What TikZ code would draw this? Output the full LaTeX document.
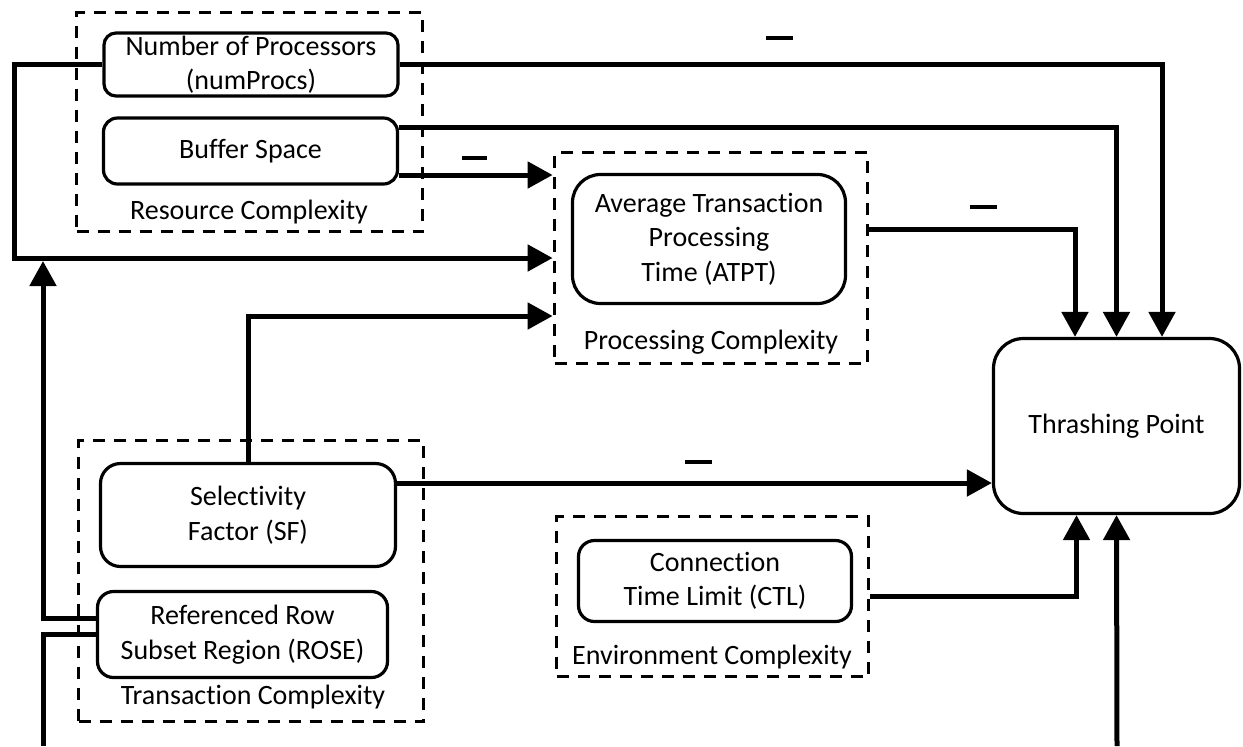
\documentclass[tikz,border=0pt]{standalone}
\usepackage{fontspec}
\setmainfont{Carlito}[Ligatures={NoCommon,NoRequired,NoContextual},Contextuals=NoAlternate]
\usetikzlibrary{arrows.meta,calc}
\tikzset{
  txt/.style={font=\fontsize{14}{17.25}\selectfont, align=center},
  box/.style={txt, draw, line width=1.6pt, inner sep=0pt},
  grp/.style={draw, dash pattern=on 6pt off 4.5pt, line width=1.9pt, inner sep=0pt},
  conn/.style={line width=2.5pt, line join=miter},
  arr/.style={conn, -{Triangle[length=12.5pt,width=13pt]}},
  minusbar/.style={line width=2pt},
}
\begin{document}
\begin{tikzpicture}[x=0.5pt,y=-0.5pt]
\useasboundingbox (0,0) rectangle (1243,746);
% groups
\node[grp, minimum width=173pt, minimum height=109.5pt] (rc) at (249.5,122) {};
\node[grp, minimum width=156.5pt, minimum height=105.5pt] (pc) at (711,258) {};
\node[grp, minimum width=172.5pt, minimum height=140.5pt] (tc) at (251,581) {};
\node[grp, minimum width=156pt, minimum height=80pt] (ec) at (712.5,596.5) {};
% group labels
\node[txt] (rcl) at (249,212) {Resource Complexity};
\node[txt] (pcl) at (711,342) {Processing Complexity};
\node[txt] (tcl) at (253,697) {Transaction Complexity};
\node[txt] (ecl) at (712,657) {Environment Complexity};
% boxes
\node[box, rounded corners=6pt, minimum width=147pt, minimum height=31.5pt] (np) at (251,64.5) {Number of Processors\\(numProcs)};
\node[box, rounded corners=7pt, minimum width=147pt, minimum height=33pt] (bs) at (250.5,151) {Buffer Space};
\node[box, rounded corners=14pt, minimum width=136.5pt, minimum height=64.5pt] (atpt) at (709,239) {Average Transaction\\Processing\\Time (ATPT)};
\node[box, rounded corners=15pt, minimum width=123pt, minimum height=87.5pt] (tp) at (1116.5,426) {Thrashing Point};
\node[box, rounded corners=10pt, minimum width=147.5pt, minimum height=51.5pt] (sf) at (248,515) {Selectivity\\Factor (SF)};
\node[box, rounded corners=8pt, minimum width=145pt, minimum height=43pt] (rose) at (242.5,634.5) {Referenced Row\\Subset Region (ROSE)};
\node[box, rounded corners=8pt, minimum width=136.5pt, minimum height=40.5pt] (ctl) at (715,581) {Connection\\Time Limit (CTL)};
% helper coordinates
\coordinate (L1) at (14,258);
\coordinate (L2) at (43,261);
\coordinate (bot1) at (43,746);
\coordinate (bot2) at (1117,746);
\coordinate (bsA) at ($(bs.east)+(0,-24)$);
\coordinate (bsB) at ($(bs.east)+(0,24)$);
\coordinate (pcO) at ($(pc.east)+(0,-29)$);
\coordinate (pcC) at ($(pc.west)+(0,58)$);
\coordinate (sfO) at ($(sf.east)+(0,-32)$);
\coordinate (roA) at ($(rose.west)+(0,-16.5)$);
\coordinate (tpN1) at ($(tp.north)+(-41.5,0)$);
\coordinate (tpN3) at ($(tp.north)+(45.5,0)$);
\coordinate (tpS1) at ($(tp.south)+(-40,0)$);
% connectors
\draw[arr] (np.west) -| (L1) -- (pc.west);
\draw[arr] (np.east) -| (tpN3);
\draw[arr] (bsA) -| (tp.north);
\draw[arr] (bsB) -- (bsB -| pc.west);
\draw[arr] (pcO) -| (tpN1);
\draw[arr] (sf.north) |- (pcC);
\draw[arr] (sfO) -- (sfO -| tp.west);
\draw[arr] (roA) -| (L2);
\draw[conn] (rose.west) -| (bot1);
\draw[arr] (ec.east) -| (tpS1);
\draw[arr] (bot2) -- (tp.south);
% minus signs
\draw[minusbar] (766,38) -- (793,38);
\draw[minusbar] (462,158) -- (487,158);
\draw[minusbar] (970,207) -- (997,207);
\draw[minusbar] (685,462) -- (712,462);
\end{tikzpicture}
\end{document}
